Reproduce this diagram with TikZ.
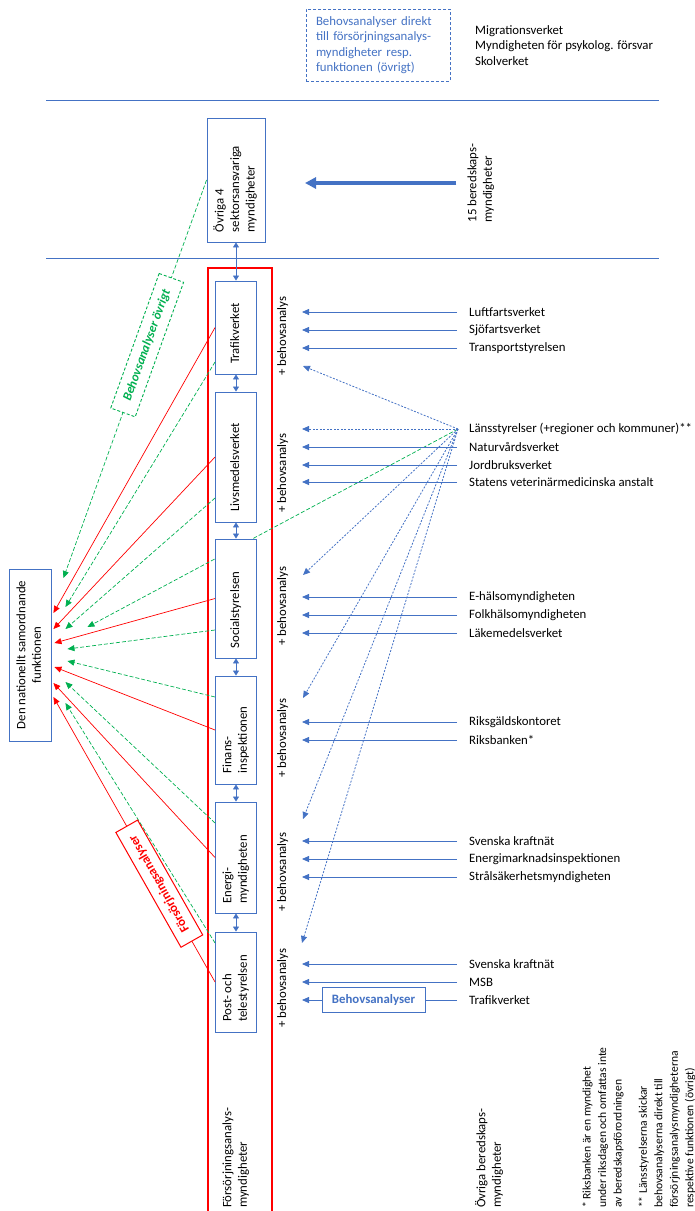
\documentclass[tikz,border=0pt]{standalone}
\usepackage{fontspec}
\setmainfont{Carlito}
\usepackage{graphicx}
\usepackage{tikz}
\usetikzlibrary{arrows.meta,calc}
\definecolor{offblue}{HTML}{4472C4}
\definecolor{offred}{HTML}{FF0000}
\definecolor{offgreen}{HTML}{00B050}
\newcommand{\vtext}[2][0pt]{\rotatebox{90}{\begin{tabular}{@{}l@{}}#2\end{tabular}\hspace{#1}}}
\newcommand{\vtextc}[1]{\rotatebox{90}{\begin{tabular}{@{}c@{}}#1\end{tabular}}}
\begin{document}
\begin{tikzpicture}[x=1pt,y=-1pt,font=\fontsize{12.8}{15.5}\selectfont]
						\tikzstyle{box}=[draw=offblue,fill=white,line width=0.9pt,inner sep=0pt]
						\tikzstyle{lbl}=[anchor=west,inner sep=0pt]
						\tikzstyle{plus}=[inner sep=0pt]
						\tikzstyle{barr}=[draw=offblue,line width=0.8pt,-{Triangle[length=7pt,width=6pt]}]
						\tikzstyle{dbarr}=[barr,dash pattern=on 2pt off 1.5pt]
						\tikzstyle{rarr}=[draw=offred,line width=0.7pt,-{Triangle[length=7pt,width=6pt]}]
						\tikzstyle{garr}=[draw=offgreen,line width=0.7pt,dash pattern=on 4pt off 2pt,-{Triangle[length=7pt,width=6pt]}]
						\tikzstyle{link}=[draw=offblue,line width=0.8pt,{Triangle[length=5pt,width=6pt]}-{Triangle[length=5pt,width=6pt]}]
						\useasboundingbox (0,0) rectangle (694,1211);
						\node[box,dash pattern=on 3pt off 2pt,text=offblue,align=left,text width=124pt,inner xsep=10pt,minimum height=72pt](note) at (378,45) {Behovsanalyser direkt\\till försörjningsanalys-\\myndigheter resp.\\funktionen (övrigt)};
						\node[lbl,align=left](misc) at (475,45.5) {Migrationsverket\\Myndigheten för psykolog. försvar\\Skolverket};
						\draw[offblue,line width=0.9pt](46,100) -- (659,100);
						\draw[offblue,line width=0.9pt](46,258) -- (659,258);
						\node[box,minimum width=58pt,minimum height=124pt](ovr) at (236,180) {\vtext[18pt]{Övriga 4\\sektorsansvariga\\myndigheter}};
						\node[plus](ber) at (481,183) {\vtext{15 beredskaps-\\myndigheter}};
						\coordinate (bigtip) at (305,183);
						\draw[draw=offblue,line width=3.5pt,-{Triangle[length=11pt,width=11pt]}]([xshift=-9pt]ber.west) -- (bigtip);
						\node[box,minimum width=42pt,minimum height=172pt](func) at (30,655) {\vtextc{Den nationellt samordnande\\funktionen}};
						\coordinate (tipx) at (302,0);
						\node[lbl](luft) at (469,312) {Luftfartsverket};
						\node[lbl](sjo) at (469,330) {Sjöfartsverket};
						\node[lbl](tsv) at (469,348) {Transportstyrelsen};
						\node[lbl](lans) at (469,429) {Länsstyrelser (+regioner och kommuner)**};
						\node[lbl](natur) at (469,447) {Naturvårdsverket};
						\node[lbl](jord) at (469,465) {Jordbruksverket};
						\node[lbl](sva) at (469,482) {Statens veterinärmedicinska anstalt};
						\node[lbl](ehm) at (469,597) {E-hälsomyndigheten};
						\node[lbl](fhm) at (469,615) {Folkhälsomyndigheten};
						\node[lbl](lmv) at (469,633) {Läkemedelsverket};
						\node[lbl](rgk) at (469,722) {Riksgäldskontoret};
						\node[lbl](rb) at (469,740) {Riksbanken*};
						\node[lbl](svk) at (469,841) {Svenska kraftnät};
						\node[lbl](ei) at (469,859) {Energimarknadsinspektionen};
						\node[lbl](ssm) at (469,877) {Strålsäkerhetsmyndigheten};
						\node[lbl](svk2) at (469,964) {Svenska kraftnät};
						\node[lbl](msb) at (469,982) {MSB};
						\node[lbl](trv2) at (469,1000) {Trafikverket};
						\node[box,minimum width=103pt,minimum height=25pt,text=offblue,font=\fontsize{12.8}{15.5}\selectfont\bfseries](beh) at (373.5,1000) {Behovsanalyser};
						\node[plus](p1) at (283,336) {\vtext{+ behovsanalys}};
						\node[plus](p2) at (283,473) {\vtext{+ behovsanalys}};
						\node[plus](p3) at (283,606) {\vtext{+ behovsanalys}};
						\node[plus](p4) at (283,738) {\vtext{+ behovsanalys}};
						\node[plus](p5) at (283,872) {\vtext{+ behovsanalys}};
						\node[plus](p6) at (283,988) {\vtext{+ behovsanalys}};
						\node[plus,anchor=south](fa) at (236,1208) {\vtext{Försörjningsanalys-\\myndigheter}};
						\node[plus,anchor=south](ob) at (490,1208) {\vtext{Övriga beredskaps-\\myndigheter}};
						\node[plus,anchor=south,font=\fontsize{11.6}{15.5}\selectfont](fn1) at (603,1208) {\vtext{* Riksbanken är en myndighet\\under riksdagen och omfattas inte\\av beredskapsförordningen}};
						\node[plus,anchor=south,font=\fontsize{11.6}{15.5}\selectfont](fn2) at (667,1208) {\vtext{** Länsstyrelserna skickar\\behovsanalyserna direkt till\\försörjningsanalysmyndigheterna\\respektive funktionen (övrigt)}};
						\draw[offred,line width=1.3pt](208,1215) -- (208,268) -- (272,268) -- (272,1215);
						\draw[garr]([xshift=-11pt]lans.west) -- ($(func.east)+(36,-28)$);
						\node[box,minimum width=41pt,minimum height=93pt](traf) at (236,327.5) {\vtext[12pt]{Trafikverket}};
						\node[box,minimum width=41pt,minimum height=130pt](livs) at (236,457) {\vtext[21pt]{Livsmedelsverket}};
						\node[box,minimum width=41pt,minimum height=119pt](soc) at (236,598.5) {\vtext[23pt]{Socialstyrelsen}};
						\node[box,minimum width=41pt,minimum height=108pt](fin) at (236,730) {\vtext[20pt]{Finans-\\inspektionen}};
						\node[box,minimum width=41pt,minimum height=111pt](ener) at (236,857.5) {\vtext[24pt]{Energi-\\myndigheten}};
						\node[box,minimum width=41pt,minimum height=100pt](pts) at (236,982) {\vtext[13pt]{Post- och\\telestyrelsen}};
						\draw[link](ovr.south) -- (traf.north);
						\draw[link](traf.south) -- (livs.north);
						\draw[link](livs.south) -- (soc.north);
						\draw[link](soc.south) -- (fin.north);
						\draw[link](fin.south) -- (ener.north);
						\draw[link](ener.south) -- (pts.north);
						\draw[barr]([xshift=-12pt]luft.west) -- (luft.west -| tipx);
						\draw[barr]([xshift=-12pt]sjo.west) -- (sjo.west -| tipx);
						\draw[barr]([xshift=-12pt]tsv.west) -- (tsv.west -| tipx);
						\draw[barr]([xshift=-12pt]natur.west) -- (natur.west -| tipx);
						\draw[barr]([xshift=-12pt]jord.west) -- (jord.west -| tipx);
						\draw[barr]([xshift=-12pt]sva.west) -- (sva.west -| tipx);
						\draw[barr]([xshift=-12pt]ehm.west) -- (ehm.west -| tipx);
						\draw[barr]([xshift=-12pt]fhm.west) -- (fhm.west -| tipx);
						\draw[barr]([xshift=-12pt]lmv.west) -- (lmv.west -| tipx);
						\draw[barr]([xshift=-12pt]rgk.west) -- (rgk.west -| tipx);
						\draw[barr]([xshift=-12pt]rb.west) -- (rb.west -| tipx);
						\draw[barr]([xshift=-12pt]svk.west) -- (svk.west -| tipx);
						\draw[barr]([xshift=-12pt]ei.west) -- (ei.west -| tipx);
						\draw[barr]([xshift=-12pt]ssm.west) -- (ssm.west -| tipx);
						\draw[barr]([xshift=-12pt]svk2.west) -- (svk2.west -| tipx);
						\draw[barr]([xshift=-12pt]msb.west) -- (msb.west -| tipx);
						\draw[draw=offblue,line width=0.8pt]([xshift=-12pt]trv2.west) -- (beh.east);
						\draw[barr](beh.west) -- (trv2.west -| tipx);
						\coordinate (d1) at (303,366);
						\coordinate (d3) at (303,575);
						\coordinate (d4) at (303,698);
						\coordinate (d5) at (303,819);
						\coordinate (d6) at (302,943);
						\draw[dbarr]([xshift=-11pt]lans.west) -- (d1);
						\draw[dbarr]([xshift=-11pt]lans.west) -- (lans.west -| tipx);
						\draw[dbarr]([xshift=-11pt]lans.west) -- (d3);
						\draw[dbarr]([xshift=-11pt]lans.west) -- (d4);
						\draw[dbarr]([xshift=-11pt]lans.west) -- (d5);
						\draw[dbarr]([xshift=-11pt]lans.west) -- (d6);
						\draw[rarr](traf.west) -- ($(func.east)+(2,-42)$);
						\draw[rarr](livs.west) -- ($(func.east)+(2,-26)$);
						\draw[rarr](soc.west) -- ($(func.east)+(3,-12)$);
						\draw[rarr](fin.west) -- ($(func.east)+(3,12)$);
						\draw[rarr](ener.west) -- ($(func.east)+(2,28)$);
						\draw[garr]($(traf.west)+(0,34.5)$) -- ($(func.east)+(14,-48)$);
						\draw[garr]($(livs.west)+(0,41)$) -- ($(func.east)+(14,-26)$);
						\draw[garr]($(soc.west)+(0,31.5)$) -- ($(func.east)+(16,-6)$);
						\draw[garr]($(fin.west)+(0,-33)$) -- ($(func.east)+(16,6)$);
						\draw[garr]($(ener.west)+(0,-34.5)$) -- ($(func.east)+(14,27)$);
						\draw[garr]($(pts.west)+(0,-39)$) -- ($(func.east)+(14,48)$);
						\draw[garr](ovr.west) -- node[pos=0.415,sloped,draw=offgreen,line width=0.9pt,dash pattern=on 3pt off 2pt,fill=white,text=offgreen,font=\fontsize{12.8}{15.5}\selectfont\bfseries\itshape,minimum width=143pt,minimum height=26pt,inner sep=0pt](glab) {Behovsanalyser övrigt} ($(func.east)+(12,-77)$);
						\draw[rarr](pts.west) -- node[pos=0.345,sloped,allow upside down,draw=offred,line width=1pt,fill=white,text=offred,font=\fontsize{12.8}{15.5}\selectfont\bfseries,minimum width=132pt,minimum height=25pt,inner sep=0pt](rlab) {Försörjningsanalyser} ($(func.east)+(2,42)$);
					\end{tikzpicture}
\end{document}
